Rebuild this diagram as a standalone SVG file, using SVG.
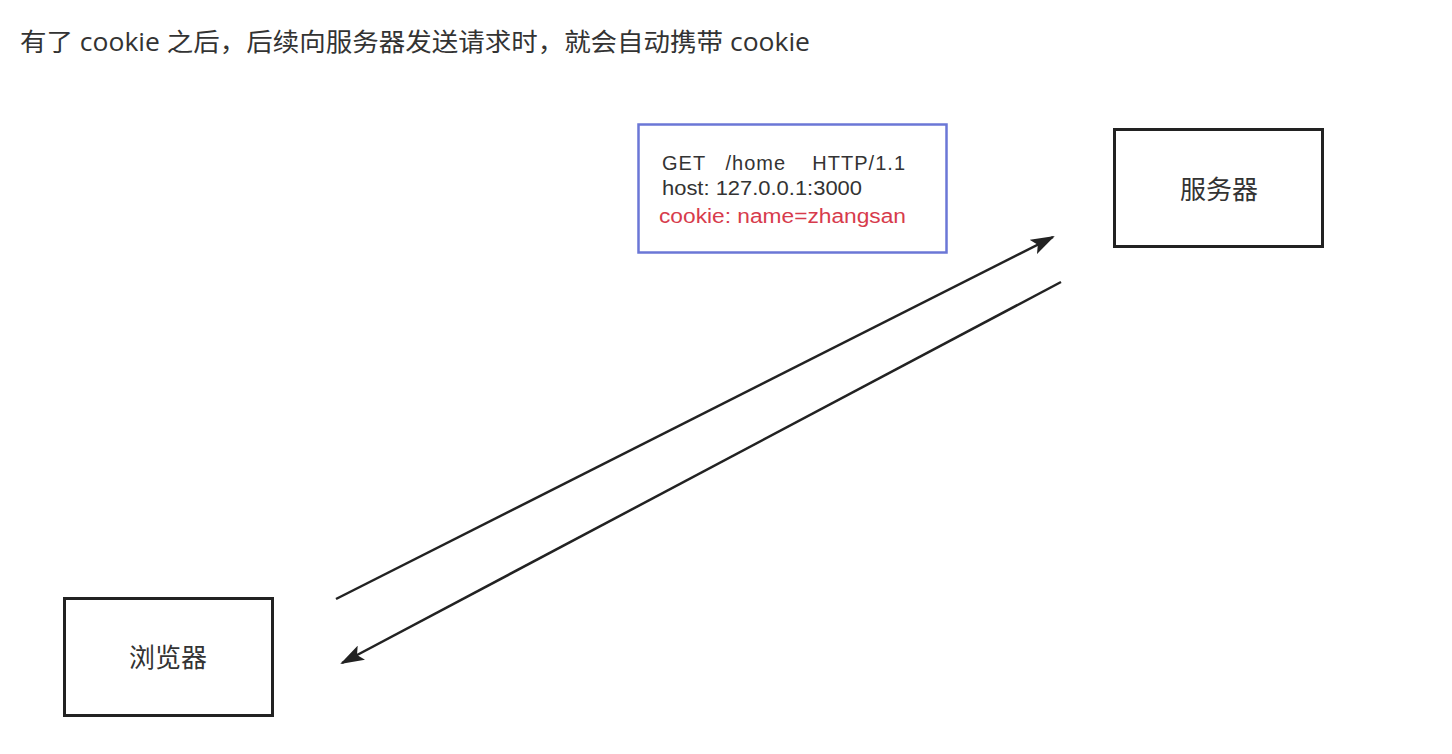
<svg xmlns="http://www.w3.org/2000/svg" width="1452" height="754" viewBox="0 0 1452 754">
<style>
.t{font-family:"Open Sans","Noto Sans CJK SC",sans-serif;fill:#333}
.req{font-family:"Liberation Sans",Arial,sans-serif;font-size:20px}
.box{fill:#fff;stroke:#222;stroke-width:3}
.ln{stroke:#222;stroke-width:2.5;fill:none}
</style>
<defs>
<marker id="a" viewBox="0 0 24 16" refX="22" refY="8" markerWidth="24" markerHeight="16" orient="auto" markerUnits="userSpaceOnUse">
<path d="M0,0 L24,8 L0,16 L5,8 Z" fill="#222"/>
</marker>
</defs>
<rect width="1452" height="754" fill="#fff"/>
<text class="t" x="20" y="51" font-size="25" textLength="790" lengthAdjust="spacingAndGlyphs">有了 cookie 之后，后续向服务器发送请求时，就会自动携带 cookie</text>
<g id="request">
<rect x="638.5" y="124.5" width="308" height="128" fill="#fff" stroke="#6b77d6" stroke-width="2.5"/>
<text class="req" x="662" y="170" fill="#333" xml:space="preserve" textLength="243" lengthAdjust="spacing">GET   /home    HTTP/1.1</text>
<text class="req" x="662" y="195" fill="#333" textLength="200" lengthAdjust="spacingAndGlyphs">host: 127.0.0.1:3000</text>
<text class="req" x="659" y="223" fill="#d73b4c" textLength="247" lengthAdjust="spacingAndGlyphs">cookie: name=zhangsan</text>
</g>
<g id="server">
<rect class="box" x="1114.5" y="129.5" width="208" height="117"/>
<text class="t" x="1219" y="199" font-size="26" text-anchor="middle">服务器</text>
</g>
<g id="browser">
<rect class="box" x="64.5" y="598.5" width="208" height="117"/>
<text class="t" x="168" y="667" font-size="26" text-anchor="middle">浏览器</text>
</g>
<g id="connectors">
<line class="ln" x1="336" y1="599" x2="1053" y2="237" marker-end="url(#a)"/>
<line class="ln" x1="1061" y1="282" x2="342" y2="663" marker-end="url(#a)"/>
</g>
</svg>
